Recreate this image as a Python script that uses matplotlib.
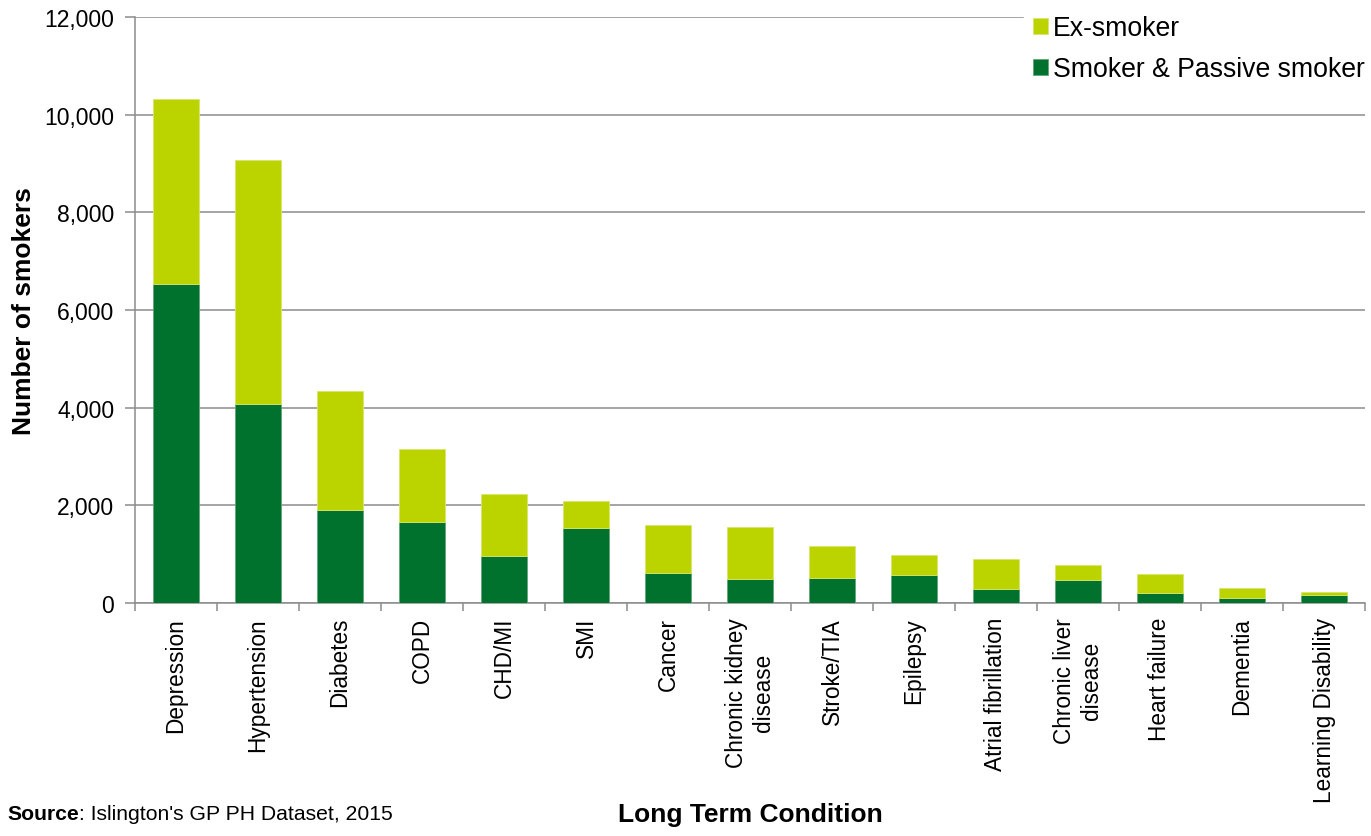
import matplotlib
matplotlib.use("Agg")
import matplotlib.pyplot as plt
import numpy as np
from matplotlib.ticker import FuncFormatter, FixedLocator

plt.rcParams["font.family"] = ["Liberation Sans", "DejaVu Sans"]

# Data
conditions = ["Depression", "Hypertension", "Diabetes", "COPD", "CHD/MI", "SMI",
              "Cancer", "Chronic kidney\ndisease", "Stroke/TIA", "Epilepsy",
              "Atrial fibrillation", "Chronic liver\ndisease", "Heart failure",
              "Dementia", "Learning Disability"]
smoker = [6530, 4070, 1900, 1665, 955, 1530, 605, 490, 515, 567, 282, 478, 205, 98, 165]
ex_smoker_total = [10325, 9065, 4345, 3157, 2235, 2098, 1605, 1550, 1165, 985, 903, 772, 588, 316, 234]
ex_smoker = [t - s for t, s in zip(ex_smoker_total, smoker)]

dark = "#00722E"
light = "#BBD400"
grey = "#8C8C8C"

fig = plt.figure(figsize=(13.71, 8.37), dpi=100)
ax = fig.add_axes([135 / 1371, 1 - 604 / 837, 1230 / 1371, 586 / 837])

x = np.arange(len(conditions))
ax.bar(x, smoker, width=0.56, color=dark, edgecolor="#5FA57A", linewidth=0.6,
       label="Smoker & Passive smoker", zorder=3)
ax.bar(x, ex_smoker, width=0.56, bottom=smoker, color=light, edgecolor="#D8E66A",
       linewidth=0.6, label="Ex-smoker", zorder=3)

ax.set_xlim(-0.5, len(conditions) - 0.5)
ax.set_ylim(0, 12000)
ax.set_yticks(np.arange(0, 12001, 2000))
ax.yaxis.set_major_formatter(FuncFormatter(lambda v, p: f"{int(v):,}"))
ax.yaxis.grid(True, color=grey, linewidth=1.1, zorder=0)
ax.set_axisbelow(True)

ax.set_xticks(x)
ax.set_xticklabels(conditions, rotation=90, ha="center", va="top",
                   multialignment="center", fontsize=16.3)
ax.xaxis.set_minor_locator(FixedLocator(np.arange(-0.5, len(conditions), 1)))
ax.tick_params(axis="x", which="major", length=0, pad=10)
ax.tick_params(axis="x", which="minor", length=6, width=1.1, color=grey, direction="out")
ax.tick_params(axis="y", length=7, width=1.1, color=grey, direction="out", labelsize=16.5, pad=8)

for side in ["top", "right"]:
    ax.spines[side].set_visible(False)
for side in ["left", "bottom"]:
    ax.spines[side].set_color(grey)
    ax.spines[side].set_linewidth(1.1)

ax.set_ylabel("Number of smokers", fontsize=19, fontweight="bold", labelpad=6)

handles, labels = ax.get_legend_handles_labels()
leg = fig.legend(handles[::-1], labels[::-1], loc="upper left",
                 bbox_to_anchor=(1024 / 1371, 1 - 7 / 837), fontsize=19.2, frameon=True,
                 handlelength=0.55, handleheight=0.55, handletextpad=0.2,
                 labelspacing=0.55, borderpad=0.35, borderaxespad=0.0)
leg.get_frame().set_facecolor("white")
leg.get_frame().set_edgecolor("white")
leg.get_frame().set_alpha(1)
leg.set_zorder(10)

fig.text(750 / 1371, 1 - 815 / 837, "Long Term Condition", fontsize=19,
         fontweight="bold", ha="center", va="center")
src = fig.text(7 / 1371, 1 - 815 / 837, "Source", fontsize=15.2, fontweight="bold",
               ha="left", va="center")
fig.canvas.draw()
bb = src.get_window_extent()
fig.text(bb.x1 / 1371, 1 - 815 / 837, ": Islington's GP PH Dataset, 2015", fontsize=15.2,
         ha="left", va="center")

fig.savefig("out.png", dpi=100)
